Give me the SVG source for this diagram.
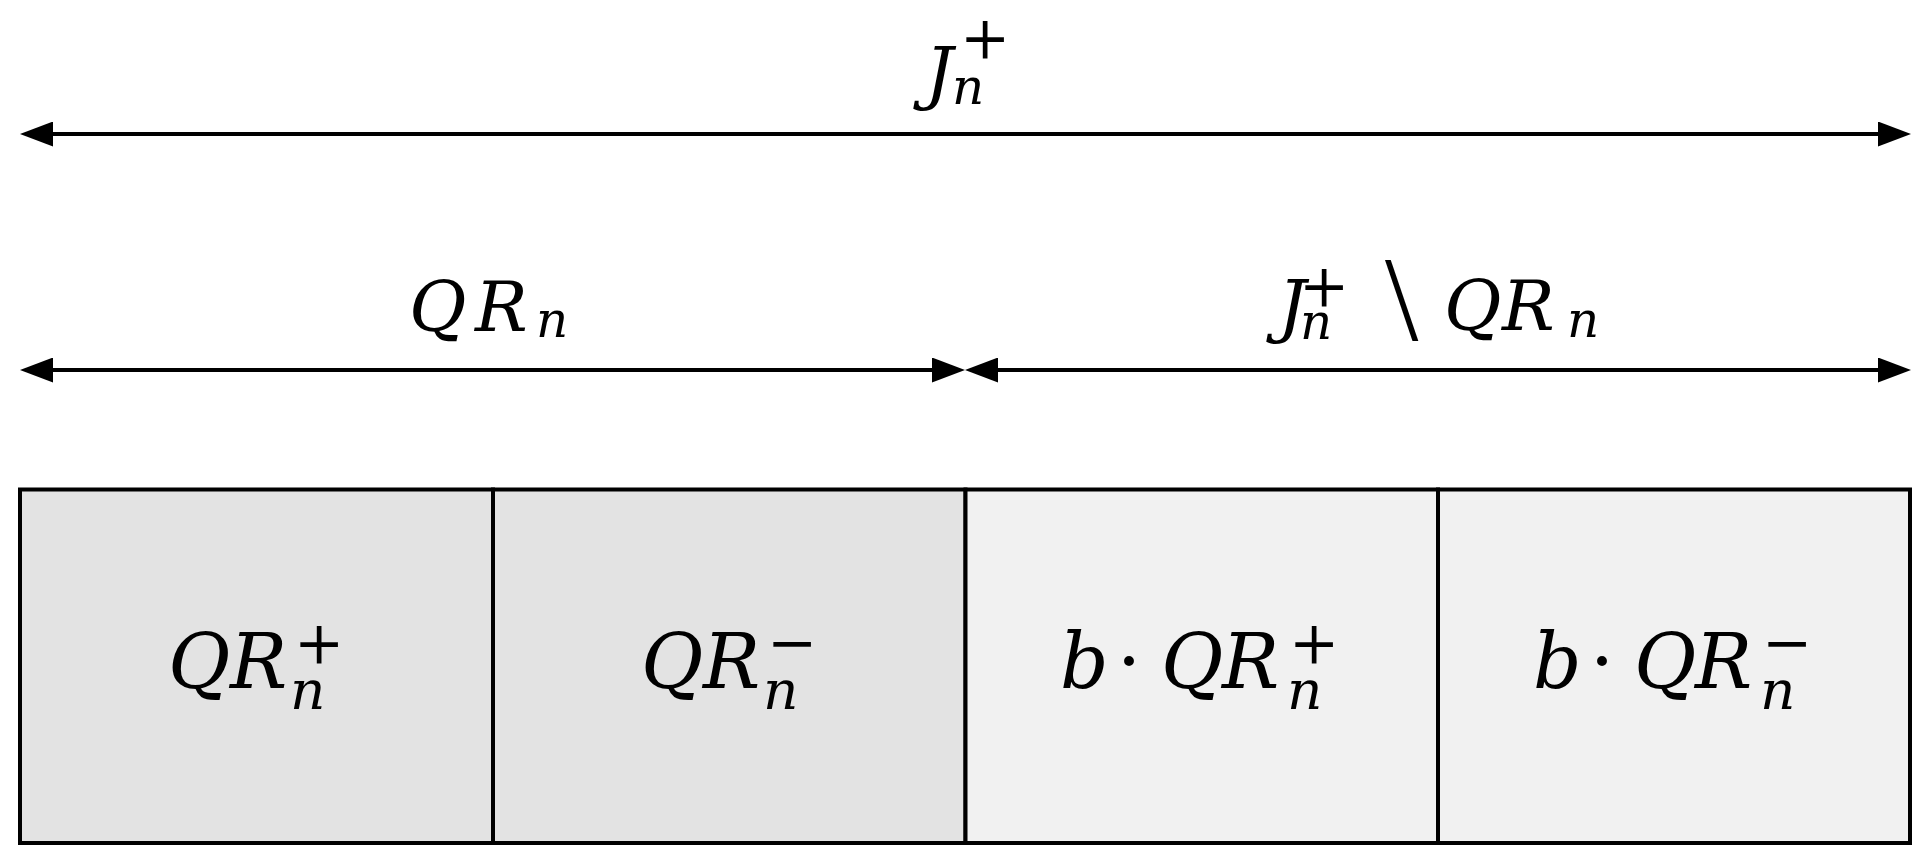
<svg xmlns="http://www.w3.org/2000/svg" width="1931" height="864" viewBox="0 0 1931 864">
<style>
text{font-family:'DejaVu Serif','Liberation Serif',serif;fill:#000}
.it{font-style:italic}
.op{font-style:normal}
.bs{font-family:'Liberation Serif','DejaVu Serif',serif;font-style:normal}
.cellA{fill:#e3e3e3;stroke:#000;stroke-width:4}
.cellB{fill:#f1f1f1;stroke:#000;stroke-width:4}
.conn{stroke:#000;stroke-width:4;fill:none;marker-start:url(#arr);marker-end:url(#arr)}
</style>
<defs>
<marker id="arr" viewBox="0 0 33 25" refX="0" refY="12.5" markerWidth="33" markerHeight="25" markerUnits="userSpaceOnUse" orient="auto-start-reverse">
<path d="M0,0 L33,12.5 L0,25 Z" fill="#000"/>
</marker>
</defs>
<rect x="0" y="0" width="1931" height="864" fill="#fff"/>
<g id="connectors">
<line class="conn" x1="53" y1="134" x2="1878" y2="134"/>
<line class="conn" x1="53" y1="370" x2="932" y2="370"/>
<line class="conn" x1="998" y1="370" x2="1878" y2="370"/>
</g>
<g id="label-Jn">
<text><tspan class="it" x="925" y="97" font-size="70">J</tspan><tspan class="it" x="952" y="104" font-size="50">n</tspan><tspan class="op" x="960" y="58" font-size="60">+</tspan></text>
</g>
<g id="label-QRn">
<text><tspan class="it" x="409" y="331" font-size="70">Q</tspan><tspan class="it" x="475" y="331" font-size="70">R</tspan><tspan class="it" x="536" y="337" font-size="50">n</tspan></text>
</g>
<g id="label-Jn-minus-QRn">
<text><tspan class="it" x="1278" y="330" font-size="70">J</tspan><tspan class="it" x="1300" y="339" font-size="50">n</tspan><tspan class="op" x="1299" y="306" font-size="60">+</tspan><tspan class="bs" x="1385" y="340" font-size="120">\</tspan><tspan class="it" x="1444" y="330" font-size="70">Q</tspan><tspan class="it" x="1502" y="330" font-size="70">R</tspan><tspan class="it" x="1567" y="337" font-size="50">n</tspan></text>
</g>
<g id="cell-QRn-plus">
<rect class="cellA" x="20" y="489.5" width="473" height="353.5"/>
<text><tspan class="it" x="168" y="688" font-size="76">Q</tspan><tspan class="it" x="230" y="688" font-size="76">R</tspan><tspan class="it" x="290" y="709" font-size="55">n</tspan><tspan class="op" x="294" y="663" font-size="60">+</tspan></text>
</g>
<g id="cell-QRn-minus">
<rect class="cellA" x="493" y="489.5" width="472.5" height="353.5"/>
<text><tspan class="it" x="641" y="688" font-size="76">Q</tspan><tspan class="it" x="703" y="688" font-size="76">R</tspan><tspan class="it" x="763" y="709" font-size="55">n</tspan><tspan class="op" x="767" y="663" font-size="60">−</tspan></text>
</g>
<g id="cell-bQRn-plus">
<rect class="cellB" x="965.5" y="489.5" width="472.5" height="353.5"/>
<text><tspan class="it" x="1060" y="688" font-size="76">b</tspan><tspan class="op" x="1117" y="688" font-size="76">·</tspan><tspan class="it" x="1161" y="688" font-size="76">Q</tspan><tspan class="it" x="1222" y="688" font-size="76">R</tspan><tspan class="it" x="1287" y="709" font-size="55">n</tspan><tspan class="op" x="1289" y="663" font-size="60">+</tspan></text>
</g>
<g id="cell-bQRn-minus">
<rect class="cellB" x="1438" y="489.5" width="472" height="353.5"/>
<text><tspan class="it" x="1533" y="688" font-size="76">b</tspan><tspan class="op" x="1590" y="688" font-size="76">·</tspan><tspan class="it" x="1634" y="688" font-size="76">Q</tspan><tspan class="it" x="1695" y="688" font-size="76">R</tspan><tspan class="it" x="1760" y="709" font-size="55">n</tspan><tspan class="op" x="1762" y="663" font-size="60">−</tspan></text>
</g>
</svg>
